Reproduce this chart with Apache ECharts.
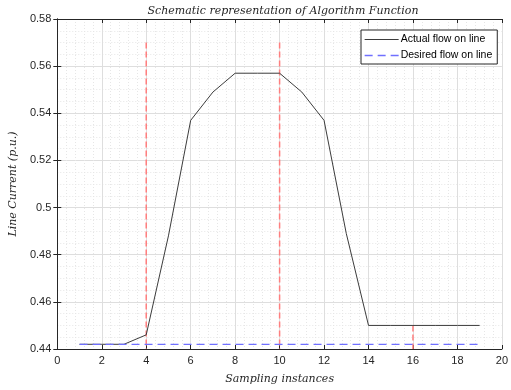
<!DOCTYPE html>
<html>
<head>
<meta charset="utf-8">
<script src="https://cdn.jsdelivr.net/npm/echarts@6/dist/echarts.min.js"></script>
<style>
  html, body { margin: 0; padding: 0; background: #fff; }
  #main { width: 511px; height: 390px; }
</style>
</head>
<body>
<div id="main"></div>
<script>
// sampling instances and line current values
const samples = [1, 2, 3, 4, 5, 6, 7, 8, 9, 10, 11, 12, 13, 14, 15, 16, 17, 18, 19];
const actualFlow = [0.442, 0.442, 0.442, 0.446, 0.488, 0.537, 0.549, 0.557, 0.557, 0.557,
                    0.549, 0.537, 0.489, 0.450, 0.450, 0.450, 0.450, 0.450, 0.450];
const desiredFlow = [0.442, 0.442, 0.442, 0.442, 0.442, 0.442, 0.442, 0.442, 0.442, 0.442,
                     0.442, 0.442, 0.442, 0.442, 0.442, 0.442, 0.442, 0.442, 0.442];
// red dashed event markers
const markerX = [4, 10, 16];
const markerTop = [0.57, 0.57, 0.45];
const markerBottom = 0.44;

const chart = echarts.init(document.getElementById('main'));

const sansFont = 'Liberation Sans, Arial, sans-serif';
const serifFont = 'DejaVu Serif, serif';

const actualStyle = { color: '#3c3c3c', width: 1 };
const desiredStyle = { color: '#7070ff', width: 1.3, type: [8, 5] };

const markerSeries = markerX.map((x, i) => ({
  type: 'line',
  name: 'marker' + i,
  data: [[x, markerTop[i]], [x, markerBottom]],
  symbol: 'none',
  silent: true,
  lineStyle: { color: '#ff7f7f', width: 1.5, type: [6, 3] },
  z: 2
}));

const axisCommon = {
  axisLine: { show: true, lineStyle: { color: '#262626', width: 1 } },
  axisTick: { show: true, inside: true, length: 4, lineStyle: { color: '#262626' } },
  splitLine: { show: true, lineStyle: { color: '#dedede', width: 1 } },
  minorSplitLine: { show: true, lineStyle: { color: '#e6e6e6', width: 1, type: [1, 2] } },
  axisLabel: { color: '#262626', fontFamily: sansFont, fontSize: 11 }
};

const option = {
  animation: false,
  backgroundColor: '#fff',
  title: {
    text: 'Schematic representation of Algorithm Function',
    left: 278,
    top: 1,
    textAlign: 'center',
    textStyle: { fontFamily: serifFont, fontStyle: 'italic', fontWeight: 'normal', fontSize: 11, color: '#262626' }
  },
  grid: { left: 55, right: 9, top: 19, bottom: 40 },
  legend: {
    data: [
      { name: 'Actual flow on line', lineStyle: actualStyle },
      { name: 'Desired flow on line', lineStyle: desiredStyle }
    ],
    orient: 'vertical',
    left: 361,
    top: 30,
    itemWidth: 34,
    itemHeight: 8,
    itemGap: 5,
    padding: [4, 5, 3, 3],
    borderColor: '#262626',
    borderWidth: 1,
    backgroundColor: '#fff',
    itemStyle: { opacity: 0 },
    textStyle: { fontFamily: sansFont, fontSize: 10.5, color: '#000', padding: [0, 0, 0, -3] }
  },
  xAxis: [{
    type: 'value',
    min: 0, max: 20, interval: 2,
    name: 'Sampling instances',
    nameLocation: 'middle',
    nameGap: 25,
    nameTextStyle: { fontFamily: serifFont, fontStyle: 'italic', fontSize: 11, color: '#262626' },
    minorTick: { show: false, splitNumber: 5 },
    ...axisCommon,
    axisLabel: { ...axisCommon.axisLabel, margin: 6 }
  }, {
    type: 'value', position: 'top',
    min: 0, max: 20, interval: 2,
    axisLine: { show: true, lineStyle: { color: '#262626' } },
    axisTick: { show: true, inside: true, length: 4, lineStyle: { color: '#262626' } },
    axisLabel: { show: false },
    splitLine: { show: false }
  }],
  yAxis: [{
    type: 'value',
    min: 0.44, max: 0.58, interval: 0.02,
    name: 'Line Current (p.u.)',
    nameLocation: 'middle',
    nameGap: 30,
    nameTextStyle: { fontFamily: serifFont, fontStyle: 'italic', fontSize: 11, color: '#262626' },
    minorTick: { show: false, splitNumber: 4 },
    ...axisCommon,
    axisLabel: { ...axisCommon.axisLabel, margin: 6, formatter: v => String(+v.toFixed(2)) }
  }, {
    type: 'value', position: 'right',
    min: 0.44, max: 0.58, interval: 0.02,
    axisLine: { show: true, lineStyle: { color: '#262626' } },
    axisTick: { show: true, inside: true, length: 4, lineStyle: { color: '#262626' } },
    axisLabel: { show: false },
    splitLine: { show: false }
  }],
  series: [
    {
      type: 'line',
      name: 'Actual flow on line',
      data: samples.map((x, i) => [x, actualFlow[i]]),
      symbol: 'none',
      lineStyle: actualStyle,
      itemStyle: { color: actualStyle.color },
      z: 3
    },
    {
      type: 'line',
      name: 'Desired flow on line',
      data: samples.map((x, i) => [x, desiredFlow[i]]),
      symbol: 'none',
      lineStyle: desiredStyle,
      itemStyle: { color: desiredStyle.color },
      z: 3
    },
    ...markerSeries
  ]
};

chart.setOption(option);
</script>
</body>
</html>
